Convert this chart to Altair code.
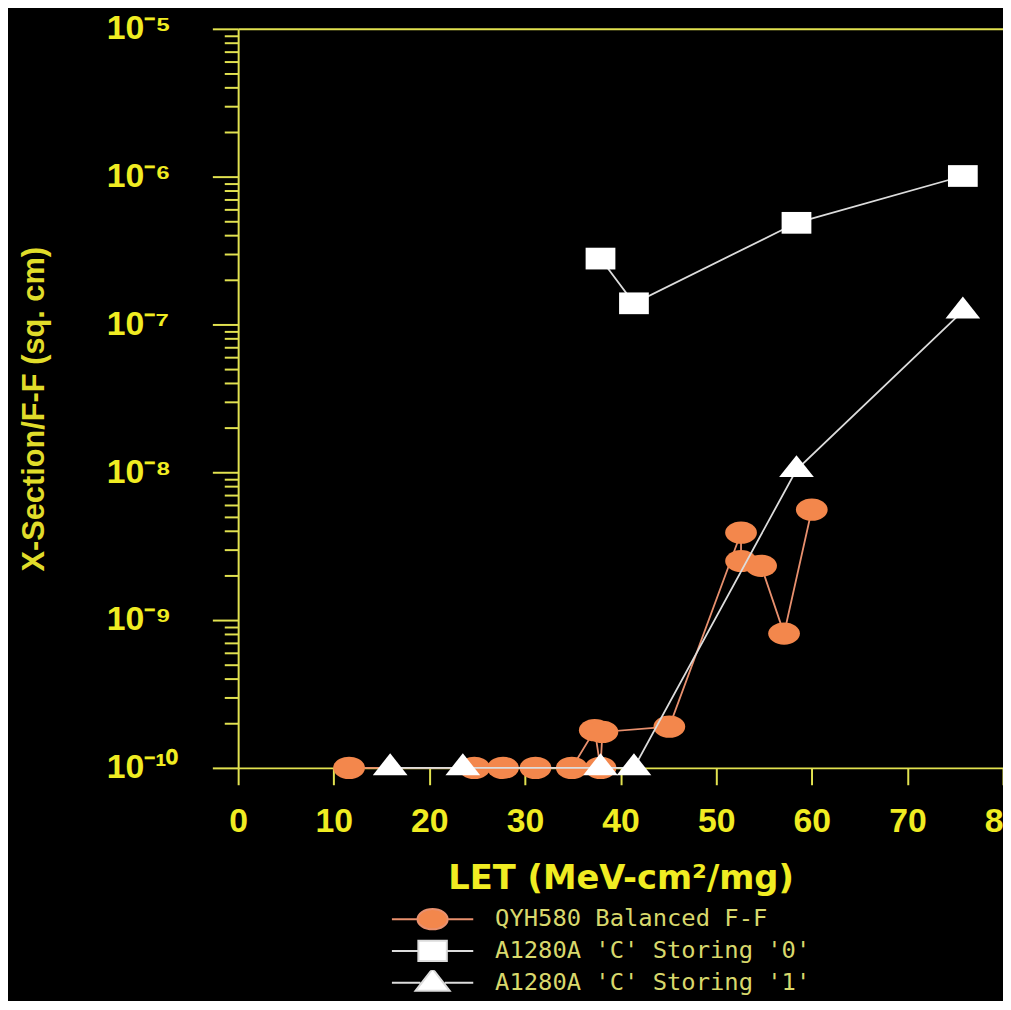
import altair as alt
import pandas as pd

# ---------------- data ----------------
series_names = ["QYH580 Balanced F-F", "A1280A 'C' Storing '0'", "A1280A 'C' Storing '1'"]

qyh_let = [11.6, 24.7, 27.7, 31.1, 34.9, 37.3, 37.9, 38.1, 45.1, 52.6, 52.6, 54.7, 57.1, 60.0]
qyh_xs = [1e-10, 1e-10, 1e-10, 1e-10, 1e-10, 1.8e-10, 1e-10, 1.75e-10, 1.9e-10,
          3.9e-9, 2.51e-9, 2.33e-9, 8.1e-10, 5.58e-9]

s0_let = [37.9, 41.4, 58.4, 75.8]
s0_xs = [2.79e-7, 1.39e-7, 4.87e-7, 1.01e-6]

s1_let = [15.9, 23.5, 37.9, 41.4, 58.4, 75.8]
s1_xs = [1e-10, 1e-10, 1e-10, 1e-10, 1.04e-8, 1.23e-7]

x_ticks = [0, 10, 20, 30, 40, 50, 60, 70, 80]
y_major = [1e-10, 1e-9, 1e-8, 1e-7, 1e-6, 1e-5]
y_major_labels = ["10⁻¹⁰", "10⁻⁹", "10⁻⁸", "10⁻⁷", "10⁻⁶", "10⁻⁵"]
y_minor = [k * 10.0 ** e for e in range(-10, -5) for k in range(2, 10)]

x_title = "LET (MeV-cm²/mg)"
y_title = "X-Section/F-F (sq. cm)"

# ---------------- styles ----------------
YEL_AX = "#E2E250"
YEL_TX = "#F0EC22"
LEG_TX = "#D8D86C"
fills = ["#F3874C", "#FFFFFF", "#FFFFFF"]
lines = ["#E8906E", "#DCDCDC", "#DCDCDC"]
marker_paths = [
    "M-1,0A1,0.7 0 1,1 1,0A1,0.7 0 1,1 -1,0Z",
    "M-1,-0.73H1V0.73H-1Z",
    "M0,-0.84L1,0.42L-1,0.42Z",
]
marker_sizes = [1024, 900, 1225]
legend_paths = [
    "M-1,0H-0.37M0.37,0H1M-0.37,0A0.37,0.25 0 1,1 0.37,0A0.37,0.25 0 1,1 -0.37,0Z",
    "M-1,0H-0.35M0.35,0H1M-0.35,-0.25H0.35V0.25H-0.35Z",
    "M-1,0H-0.3M0.3,0H1M0,-0.34L0.42,0.2L-0.42,0.2Z",
]

frames = []
for name, lets, xs in [(series_names[0], qyh_let, qyh_xs),
                       (series_names[1], s0_let, s0_xs),
                       (series_names[2], s1_let, s1_xs)]:
    frames.append(pd.DataFrame({"series": name, "LET": lets, "xs": xs,
                                "idx": list(range(len(lets)))}))
df_all = pd.concat(frames, ignore_index=True)

W, H = 771, 745

x_scale = alt.Scale(domain=[0, 80], nice=False, zero=False)
y_scale = alt.Scale(type="log", domain=[1e-10, 1e-5], nice=False)

label_expr = "[" + ",".join("'%s'" % s for s in y_major_labels) + "][round(log(datum.value)/LN10) + 10]"

x_axis = alt.Axis(
    orient="bottom",
    values=x_ticks, grid=False, labelFlush=False, labelOverlap=False,
    labelFont="Liberation Sans", labelFontWeight="bold", labelFontSize=34,
    labelColor=YEL_TX, labelPadding=20,
    tickSize=17, tickWidth=2, tickColor=YEL_AX,
    domainColor=YEL_AX, domainWidth=2,
    title=x_title, titleFont="DejaVu Sans", titleFontWeight="bold", titleFontSize=34,
    titleColor=YEL_TX, titleY=112, titleBaseline="middle",
)

y_axis_major = alt.Axis(
    orient="left",
    values=y_major, labelExpr=label_expr, labelFlush=False, labelOverlap=False,
    labelAlign="left", labelBaseline="middle", labelPadding=107,
    labelFont="Liberation Sans", labelFontWeight="bold", labelFontSize=34, labelColor=YEL_TX,
    tickSize=26, tickWidth=2, tickColor=YEL_AX,
    domainColor=YEL_AX, domainWidth=2,
    grid=True, gridColor=YEL_AX, gridWidth=2,
    gridOpacity={"condition": {"test": "datum.value > 5e-6", "value": 1}, "value": 0},
    title=y_title, titleFont="Liberation Sans", titleFontWeight="bold", titleFontSize=31,
    titleColor="#E0DC2A", titleX=-205, titleY=383, titleBaseline="middle", titleAngle=270,
)

y_axis_minor = alt.Axis(
    orient="left",
    values=y_minor, labels=False, domain=False, grid=False,
    tickSize=14, tickWidth=2, tickColor=YEL_AX, title=None,
)

layers = []
for i, name in enumerate(series_names):
    sub = alt.Chart(df_all).transform_filter(alt.datum.series == name)
    line = sub.mark_line(color=lines[i], strokeWidth=1.8).encode(
        x=alt.X("LET:Q", scale=x_scale, axis=x_axis if i == 0 else None),
        y=alt.Y("xs:Q", scale=y_scale, axis=y_axis_major if i == 0 else None),
        order=alt.Order("idx:Q"),
    )
    pts = sub.mark_point(shape=marker_paths[i], size=marker_sizes[i], filled=True,
                         fill=fills[i], strokeWidth=0, opacity=1).encode(
        x=alt.X("LET:Q", scale=x_scale, axis=None),
        y=alt.Y("xs:Q", scale=y_scale, axis=y_axis_minor if i == 0 else None),
    )
    layers += [line, pts]

leg = alt.Legend(
    orient="none", legendX=154, legendY=885, title=None,
    symbolSize=6724, symbolStrokeWidth=2, symbolOpacity=1, symbolOffset=0,
    clipHeight=25,
    labelFont="DejaVu Sans Mono", labelFontSize=24, labelColor=LEG_TX,
    labelOffset=21, rowPadding=7, padding=0, labelLimit=600,
)

legend_layer = alt.Chart(df_all).transform_filter("false").mark_point(filled=True, opacity=1).encode(
    x=alt.X("LET:Q", scale=x_scale, axis=None),
    y=alt.Y("xs:Q", scale=y_scale, axis=None),
    fill=alt.Fill("series:N", scale=alt.Scale(domain=series_names, range=fills), legend=leg),
    stroke=alt.Stroke("series:N", scale=alt.Scale(domain=series_names, range=lines), legend=leg),
    shape=alt.Shape("series:N", scale=alt.Scale(domain=series_names, range=legend_paths), legend=leg),
)
layers.append(legend_layer)

chart = alt.layer(*layers).resolve_axis(x="independent", y="independent").properties(
    width=W, height=H,
    autosize=alt.AutoSizeParams(type="none"),
    padding={"left": 232, "top": 17, "right": 0, "bottom": 231},
    background="black",
).configure_view(stroke=None)

chart.save("out.html", embed_options={"renderer": "svg", "actions": False})
